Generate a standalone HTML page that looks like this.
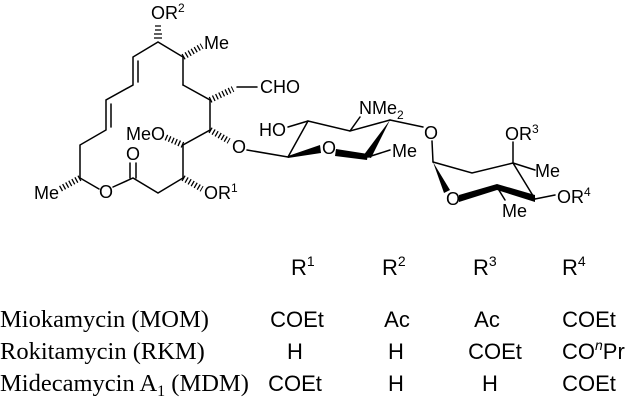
<!DOCTYPE html>
<html><head><meta charset="utf-8"><style>
html,body{margin:0;padding:0;background:#fff;}
svg{display:block;}
.s{font-family:"Liberation Sans",Arial,sans-serif;font-size:18px;fill:#000;}
.t{font-family:"Liberation Sans",Arial,sans-serif;font-size:22px;fill:#000;}
.r{font-family:"Liberation Serif","Times New Roman",serif;font-size:24.5px;fill:#000;}
.sup{font-size:12px;}
</style></head><body>
<svg width="632" height="416" viewBox="0 0 632 416" xmlns="http://www.w3.org/2000/svg">
<g stroke="#000" stroke-width="1.5" fill="none" stroke-linecap="round">
<polyline points="183,85 183,57 158,42 133,57 133,85 106,100 106,130 80,145 80,178 99,189"/>
<line x1="138" y1="61" x2="138" y2="82"/>
<line x1="111" y1="104" x2="111" y2="127"/>
<polyline points="113,187 133,178 158,193 183,178 183,145 210,130 210,100 183,85"/>
<line x1="130" y1="178" x2="130" y2="163"/><line x1="136" y1="178" x2="136" y2="163"/>
<line x1="237" y1="87" x2="257" y2="87"/>
<line x1="247" y1="150" x2="288" y2="157"/>
<polyline points="390,120 350,131 308,121 288,157"/>
<line x1="288" y1="127" x2="308" y2="121"/>
<line x1="350" y1="131" x2="360" y2="117"/>
<line x1="368" y1="157" x2="390" y2="150"/>
<line x1="390" y1="120" x2="423" y2="127"/>
<line x1="432" y1="141" x2="433" y2="162"/>
<polyline points="433,162 472,173 513,163 535,199"/>
<line x1="513" y1="163" x2="513" y2="142"/>
<line x1="513" y1="163" x2="535" y2="170"/>
<line x1="535" y1="199" x2="555" y2="195"/>
<line x1="497" y1="187" x2="505" y2="200"/>
</g>
<g stroke="#000" stroke-width="1.3">
<path d="M155,26h6M155,30h6M154,34h8M154,38h8" />
<g stroke-dasharray="1.3 2.2" fill="none">
<line x1="183" y1="57" x2="202" y2="46" stroke-width="6"/>
<line x1="80" y1="178" x2="60" y2="189" stroke-width="6"/>
<line x1="183" y1="178" x2="202" y2="189" stroke-width="6"/>
<line x1="183" y1="145" x2="165" y2="137" stroke-width="6"/>
<line x1="210" y1="130" x2="229" y2="141" stroke-width="6"/>
<line x1="210" y1="100" x2="233" y2="89" stroke-width="6"/>
</g>
</g>
<g fill="#000">
<polygon points="288,156 320,145 321,153 288,158"/>
<polygon points="336,149 368,154 367,160 335,156"/>
<polygon points="390,120 363,156 371,158"/>
<polygon points="433,162 444,193 450,190"/>
<polygon points="459,195 497,184 497,190 459,202"/>
<polygon points="497,184 535,195 535,202 497,190"/>
</g>
<text class="s" x="151" y="19">OR<tspan class="sup" dy="-7">2</tspan></text>
<text class="s" x="204" y="49">Me</text>
<text class="s" x="260" y="93">CHO</text>
<text class="s" x="126" y="140">MeO</text>
<text class="s" x="232" y="153">O</text>
<text class="s" x="99" y="198">O</text>
<text class="s" x="126" y="160">O</text>
<text class="s" x="34" y="199">Me</text>
<text class="s" x="204" y="199">OR<tspan class="sup" dy="-7">1</tspan></text>
<text class="s" x="259" y="136">HO</text>
<text class="s" x="322" y="154">O</text>
<text class="s" x="359" y="114">NMe<tspan class="sup" dy="5">2</tspan></text>
<text class="s" x="392" y="157">Me</text>
<text class="s" x="424" y="139">O</text>
<text class="s" x="446" y="205">O</text>
<text class="s" x="505" y="140">OR<tspan class="sup" dy="-7">3</tspan></text>
<text class="s" x="535" y="177">Me</text>
<text class="s" x="557" y="203">OR<tspan class="sup" dy="-7">4</tspan></text>
<text class="s" x="502" y="217">Me</text>
<text class="t" x="291" y="275">R<tspan font-size="14" dy="-9">1</tspan></text>
<text class="t" x="382" y="275">R<tspan font-size="14" dy="-9">2</tspan></text>
<text class="t" x="473" y="275">R<tspan font-size="14" dy="-9">3</tspan></text>
<text class="t" x="562" y="275">R<tspan font-size="14" dy="-9">4</tspan></text>
<text class="r" x="0" y="327">Miokamycin (MOM)</text>
<text class="r" x="0" y="359">Rokitamycin (RKM)</text>
<text class="r" x="0" y="391">Midecamycin A<tspan font-size="16" dy="5">1</tspan><tspan dy="-5"> (MDM)</tspan></text>
<g class="t" text-anchor="middle">
<text x="297" y="327">COEt</text><text x="397" y="327">Ac</text><text x="487" y="327">Ac</text><text x="589" y="327">COEt</text>
<text x="295" y="359">H</text><text x="396" y="359">H</text><text x="495" y="359">COEt</text>
<text x="295" y="391">COEt</text><text x="396" y="391">H</text><text x="490" y="391">H</text><text x="589" y="391">COEt</text>
</g>
<text class="t" x="562" y="359">CO<tspan font-style="italic" font-size="14" dy="-9">n</tspan><tspan dy="9">Pr</tspan></text>
</svg>
</body></html>
